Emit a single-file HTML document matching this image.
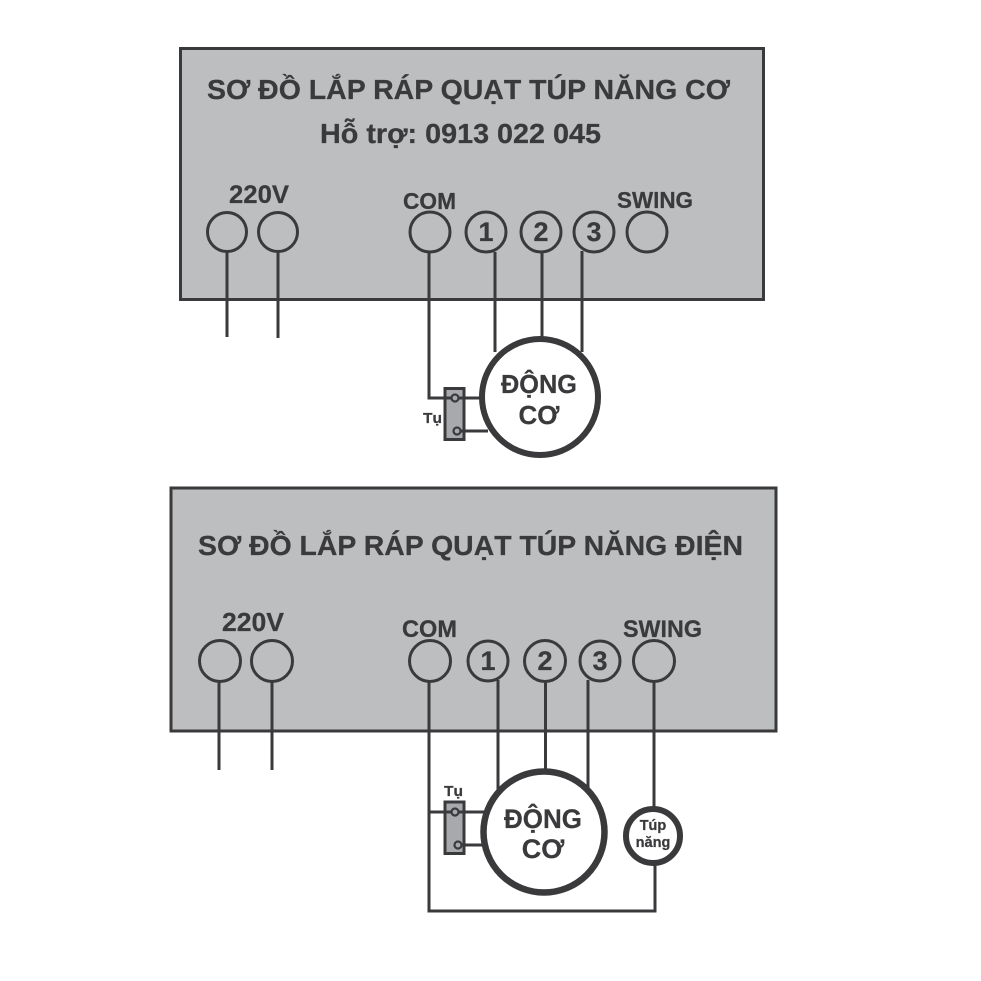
<!DOCTYPE html>
<html>
<head>
<meta charset="utf-8">
<style>
html,body{margin:0;padding:0;background:#fff;width:981px;height:981px;overflow:hidden}
svg{display:block}
text{font-family:"Liberation Sans",sans-serif;font-weight:bold;fill:#3a3a3c;stroke:#3a3a3c;stroke-width:0.25}
</style>
</head>
<body>
<svg width="981" height="981" viewBox="0 0 981 981" xmlns="http://www.w3.org/2000/svg">
<rect width="981" height="981" fill="#fff"/>
<g fill="none" stroke="#3a3a3c">
  <!-- top box -->
  <rect x="180.5" y="48.5" width="583" height="251" fill="#bcbec0" stroke-width="3"/>
  <g stroke-width="3">
    <circle cx="227" cy="232" r="19.5"/>
    <circle cx="278" cy="232" r="19.5"/>
    <circle cx="430" cy="232" r="20"/>
    <circle cx="486" cy="232" r="20"/>
    <circle cx="541" cy="232" r="20"/>
    <circle cx="594" cy="232" r="20"/>
    <circle cx="647" cy="232" r="20"/>
    <path d="M227 251V337M278 251V338M429 252V398H480M495 252V352M542 252V338M582 251V352M457 431H488"/>
  </g>
  <circle cx="540" cy="397" r="58" fill="#fff" stroke-width="6"/>
  <rect x="445" y="388.500" width="19" height="51" fill="#a7a9ac" stroke-width="3"/>
  <path d="M429 398H480M457 431H488" stroke-width="3"/>
  <circle cx="455" cy="398" r="3.500" fill="#a7a9ac" stroke-width="2.200"/>
  <circle cx="457" cy="431" r="3.500" fill="#a7a9ac" stroke-width="2.200"/>

  <!-- bottom box -->
  <rect x="171" y="488" width="605" height="243" fill="#bcbec0" stroke-width="3"/>
  <g stroke-width="3">
    <circle cx="220" cy="661" r="20.500"/>
    <circle cx="272" cy="661" r="20.500"/>
    <circle cx="430" cy="661" r="20.500"/>
    <circle cx="488" cy="661" r="20"/>
    <circle cx="545" cy="661" r="20.500"/>
    <circle cx="600" cy="661" r="20"/>
    <circle cx="654" cy="661" r="20.500"/>
    <path d="M219 681V770M272 681V770M429 682V911H655V862M498 680V790M545.500 681V771M588 680V790M654 681V808"/>
  </g>
  <circle cx="544" cy="832" r="60.500" fill="#fff" stroke-width="6.500"/>
  <circle cx="653" cy="836" r="27" fill="#fff" stroke-width="6"/>
  <rect x="445" y="802" width="19" height="51.500" fill="#a7a9ac" stroke-width="3"/>
  <path d="M429 812H484M458 845H483" stroke-width="3"/>
  <circle cx="455" cy="812" r="3.500" fill="#a7a9ac" stroke-width="2.200"/>
  <circle cx="458" cy="845" r="3.500" fill="#a7a9ac" stroke-width="2.200"/>
</g>

<!-- top labels -->
<text x="207" y="99" font-size="28" textLength="523" lengthAdjust="spacingAndGlyphs">SƠ ĐỒ LẮP RÁP QUẠT TÚP NĂNG CƠ</text>
<text x="320" y="143" font-size="28" textLength="281" lengthAdjust="spacingAndGlyphs">Hỗ trợ: 0913 022 045</text>
<text x="229" y="203" font-size="25" textLength="60" lengthAdjust="spacingAndGlyphs">220V</text>
<text x="403" y="209" font-size="23" textLength="53" lengthAdjust="spacingAndGlyphs">COM</text>
<text x="617" y="208" font-size="23" textLength="76" lengthAdjust="spacingAndGlyphs">SWING</text>
<text x="486" y="241" font-size="27" text-anchor="middle">1</text>
<text x="541" y="241" font-size="27" text-anchor="middle">2</text>
<text x="594" y="241" font-size="27" text-anchor="middle">3</text>
<text x="539" y="393" font-size="26" text-anchor="middle" textLength="76" lengthAdjust="spacingAndGlyphs">ĐỘNG</text>
<text x="539" y="424" font-size="26" text-anchor="middle">CƠ</text>
<text x="423" y="423" font-size="15" textLength="19" lengthAdjust="spacingAndGlyphs">Tụ</text>

<!-- bottom labels -->
<text x="198" y="555" font-size="28" textLength="545" lengthAdjust="spacingAndGlyphs">SƠ ĐỒ LẮP RÁP QUẠT TÚP NĂNG ĐIỆN</text>
<text x="222" y="631" font-size="26" textLength="62" lengthAdjust="spacingAndGlyphs">220V</text>
<text x="402" y="637" font-size="24" textLength="55" lengthAdjust="spacingAndGlyphs">COM</text>
<text x="623" y="637" font-size="24" textLength="79" lengthAdjust="spacingAndGlyphs">SWING</text>
<text x="488" y="670" font-size="27" text-anchor="middle">1</text>
<text x="545" y="670" font-size="27" text-anchor="middle">2</text>
<text x="600" y="670" font-size="27" text-anchor="middle">3</text>
<text x="543" y="828" font-size="27" text-anchor="middle" textLength="78" lengthAdjust="spacingAndGlyphs">ĐỘNG</text>
<text x="543" y="858" font-size="27" text-anchor="middle">CƠ</text>
<text x="444" y="796" font-size="15" textLength="19" lengthAdjust="spacingAndGlyphs">Tụ</text>
<text x="653" y="830" font-size="14.500" text-anchor="middle">Túp</text>
<text x="653" y="847" font-size="14.500" text-anchor="middle">năng</text>
</svg>
</body>
</html>
